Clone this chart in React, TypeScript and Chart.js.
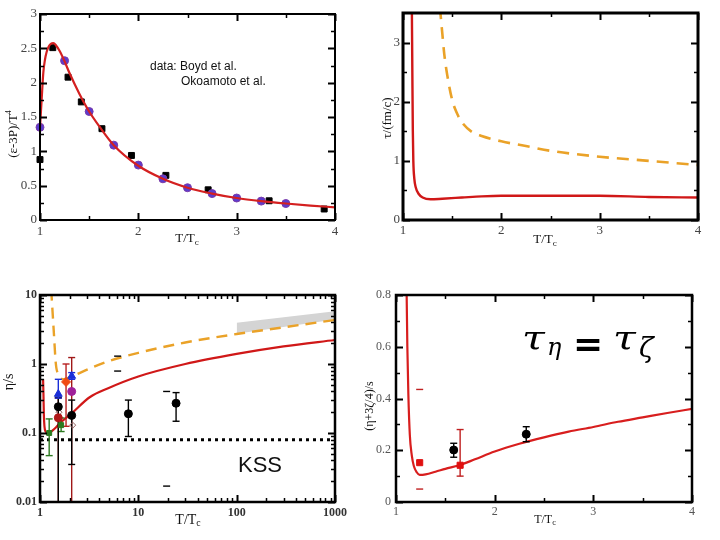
import React, { useEffect, useRef } from "react";
import { Chart, registerables } from "chart.js";
Chart.register(...registerables);

// ================= Panel A: (ε-3P)/T^4 vs T/Tc =================
const aCurveT = [1.0, 1.017, 1.034, 1.05, 1.068, 1.09, 1.11, 1.135, 1.16, 1.2, 1.25, 1.3, 1.4, 1.5, 1.6, 1.75, 2.0, 2.25, 2.5, 2.75, 3.0, 3.25, 3.5, 3.75, 4.0];
const aCurveY = [1.35, 1.76, 2.15, 2.33, 2.45, 2.53, 2.565, 2.575, 2.55, 2.46, 2.31, 2.14, 1.84, 1.58, 1.37, 1.09, 0.79, 0.6, 0.47, 0.385, 0.32, 0.275, 0.24, 0.21, 0.185];
const aSquareT = [1.0, 1.13, 1.285, 1.42, 1.63, 1.93, 2.28, 2.71, 3.33, 3.89];
const aSquareY = [0.88, 2.51, 2.08, 1.72, 1.33, 0.94, 0.65, 0.44, 0.28, 0.16];
const aCircleT = [1.0, 1.25, 1.5, 1.75, 2.0, 2.25, 2.5, 2.75, 3.0, 3.25, 3.5];
const aCircleY = [1.35, 2.32, 1.58, 1.09, 0.8, 0.6, 0.47, 0.385, 0.32, 0.275, 0.24];
const aXTicks = [1, 2, 3, 4];
const aXMinor = [1.5, 2.5, 3.5];
const aYTicks = [0, 0.5, 1, 1.5, 2, 2.5, 3];
const aYMinor = [0.25, 0.75, 1.25, 1.75, 2.25, 2.75];

// ================= Panel B: τ/(fm/c) vs T/Tc =================
const bRedT = [1.09, 1.095, 1.1, 1.105, 1.115, 1.13, 1.16, 1.2, 1.28, 1.4, 1.6, 1.8, 2.0, 2.5, 3.0, 3.5, 4.0];
const bRedY = [3.6, 2.5, 1.5, 1.0, 0.7, 0.55, 0.44, 0.38, 0.35, 0.36, 0.38, 0.4, 0.41, 0.41, 0.41, 0.39, 0.38];
const bOrangeT = [1.375, 1.4, 1.42, 1.45, 1.5, 1.55, 1.6, 1.7, 1.8, 2.0, 2.25, 2.5, 3.0, 3.5, 4.0];
const bOrangeY = [3.6, 3.15, 2.8, 2.45, 2.03, 1.8, 1.65, 1.49, 1.42, 1.33, 1.25, 1.17, 1.07, 1.0, 0.93];
const bXTicks = [1, 2, 3, 4];
const bXMinor = [1.5, 2.5, 3.5];
const bYTicks = [0, 1, 2, 3];
const bYMinor = [0.5, 1.5, 2.5];

// ================= Panel C: η/s vs T/Tc (log-log) =================
const cOrangeT = [1.3, 1.38, 1.45, 1.55, 1.73, 2.2, 3.2, 5, 10, 30, 100, 300, 1000];
const cOrangeY = [12, 3, 1.0, 0.7, 0.6, 0.68, 0.86, 1.1, 1.45, 2.05, 2.72, 3.4, 4.35];
const cRedT = [1.075, 1.085, 1.095, 1.11, 1.14, 1.2, 1.3, 1.45, 1.6, 2.1, 3.2, 5, 10, 30, 100, 300, 1000];
const cRedY = [0.6, 0.35, 0.18, 0.125, 0.105, 0.1, 0.105, 0.12, 0.14, 0.193, 0.33, 0.45, 0.66, 1.0, 1.4, 1.8, 2.23];
const cKssT = [1, 1000];
const cKssY = [0.0796, 0.0796];
const cBandT = [100, 1000];
const cBandLo = [2.75, 4.4];
const cBandHi = [3.95, 5.8];
const cBlackT = [1.535, 2.1, 7.92, 24.2];
const cBlackY = [0.24, 0.18, 0.19, 0.27];
const cBlackLo = [0.01, 0.035, 0.089, 0.148];
const cBlackHi = [0.33, 0.3, 0.3, 0.385];
const cDarkRedT = [1.535];
const cDarkRedY = [0.166];
const cDarkRedLo = [0.01];
const cDarkRedHi = [0.32];
const cTallBarT = [2.1];
const cTallBarLo = [0.01];
const cTallBarHi = [1.24];
const cOrangePtT = [1.84];
const cOrangePtY = [0.55];
const cOrangePtLo = [0.125];
const cOrangePtHi = [1.0];
const cBlueT = [1.535, 2.1];
const cBlueY = [0.367, 0.67];
const cBlueLo = [0.32, 0.6];
const cBlueHi = [0.6, 0.75];
const cPurpleT = [2.1];
const cPurpleY = [0.4];
const cGreenT = [1.24, 1.64];
const cGreenY = [0.1, 0.13];
const cGreenLo = [0.047, 0.105];
const cGreenHi = [0.16, 0.165];
const cOpenT = [1.56, 2.15];
const cOpenY = [0.2, 0.13];
const cCapT = [6.16, 6.16, 19.4, 19.4];
const cCapY = [1.3, 0.79, 0.4, 0.017];
const cXTicks = [1, 10, 100, 1000];
const cYTicks = [0.01, 0.1, 1, 10];
const cXMinor = [2, 3, 4, 5, 6, 7, 8, 9, 20, 30, 40, 50, 60, 70, 80, 90, 200, 300, 400, 500, 600, 700, 800, 900];
const cYMinor = [0.02, 0.03, 0.04, 0.05, 0.06, 0.07, 0.08, 0.09, 0.2, 0.3, 0.4, 0.5, 0.6, 0.7, 0.8, 0.9, 2, 3, 4, 5, 6, 7, 8, 9];

// ================= Panel D: (η+3ζ/4)/s vs T/Tc =================
const dCurveT = [1.105, 1.108, 1.115, 1.125, 1.14, 1.16, 1.18, 1.21, 1.24, 1.3, 1.4, 1.5, 1.65, 1.8, 2.0, 2.25, 2.5, 2.75, 3.0, 3.25, 3.5, 3.75, 4.0];
const dCurveY = [0.85, 0.8, 0.6, 0.42, 0.26, 0.18, 0.14, 0.115, 0.105, 0.107, 0.117, 0.128, 0.143, 0.165, 0.195, 0.225, 0.25, 0.272, 0.29, 0.31, 0.327, 0.344, 0.36];
const dSquareT = [1.24, 1.65];
const dSquareY = [0.152, 0.142];
const dRedBarT = [1.65];
const dRedBarLo = [0.1];
const dRedBarHi = [0.28];
const dRedCapT = [1.24, 1.24];
const dRedCapY = [0.435, 0.05];
const dBlackT = [1.585, 2.32];
const dBlackY = [0.201, 0.262];
const dBlackLo = [0.173, 0.233];
const dBlackHi = [0.227, 0.291];
const dXTicks = [1, 2, 3, 4];
const dXMinor = [1.5, 2.5, 3.5];
const dYTicks = [0, 0.2, 0.4, 0.6, 0.8];
const dYMinor = [0.1, 0.3, 0.5, 0.7];

// ================= helpers =================
const SERIF = '"Liberation Serif", "DejaVu Serif", serif';
const SANS = '"Liberation Sans", Arial, sans-serif';
const MATH = '"DejaVu Serif", serif';

type Part = { t: string; size: number; dy?: number; family?: string; style?: string; weight?: string };
type Txt = { parts: Part[]; x: number; y: number; rot?: number; sx?: number; align?: "left" | "center"; baseline?: CanvasTextBaseline; color?: string };
type Axis = { type: "linear" | "logarithmic"; min: number; max: number; ticks: number[]; minor: number[] };
type Panel = {
  left: number; top: number;
  area: { l: number; t: number; r: number; b: number };
  x: Axis; y: Axis; datasets: any[]; texts: Txt[]; frame: number;
  tickFont: any; tickColor: string; padX: number; padY: number;
};

const fontOf = (p: Part) => `${p.style || "normal"} ${p.weight || "normal"} ${p.size}px ${p.family || SERIF}`;

function drawTxt(ctx: CanvasRenderingContext2D, txt: Txt) {
  ctx.save();
  ctx.translate(txt.x, txt.y);
  if (txt.rot) ctx.rotate(txt.rot);
  if (txt.sx) ctx.scale(txt.sx, 1);
  ctx.textBaseline = txt.baseline || "middle";
  ctx.textAlign = "left";
  ctx.fillStyle = txt.color || "#111";
  let w = 0;
  const ws = txt.parts.map((p) => {
    ctx.font = fontOf(p);
    const m = ctx.measureText(p.t).width;
    w += m;
    return m;
  });
  let x = txt.align === "left" ? 0 : -w / 2;
  txt.parts.forEach((p, i) => {
    ctx.font = fontOf(p);
    ctx.fillText(p.t, x, p.dy || 0);
    x += ws[i];
  });
  ctx.restore();
}

const pts = (xs: number[], ys: number[]) => xs.map((x, i) => ({ x, y: ys[i] }));
const curve = (xs: number[], ys: number[], color: string, width: number, dash: number[] = []) => ({
  data: pts(xs, ys), showLine: true, borderColor: color, borderWidth: width, borderDash: dash,
  pointRadius: 0, cubicInterpolationMode: "monotone", clip: 0, fill: false,
});
const markers = (xs: number[], ys: number[], style: string, r: number, fillC: string, borderC: string, bw = 1) => ({
  data: pts(xs, ys), showLine: false, pointStyle: style, pointRadius: r,
  pointBackgroundColor: fillC, pointBorderColor: borderC, pointBorderWidth: bw, clip: false,
});
const errBars = (xs: number[], lo: number[], hi: number[], color: string, cap = 3.5) =>
  xs.map((x, i) => ({
    data: [{ x, y: lo[i] }, { x, y: hi[i] }], showLine: true, borderColor: color, borderWidth: 1.4,
    pointStyle: "line", pointRadius: cap, pointBorderColor: color, pointBorderWidth: 1.4, clip: 0,
  }));
const caps = (xs: number[], ys: number[], color: string) => ({
  data: pts(xs, ys), showLine: false, pointStyle: "line", pointRadius: 3.5,
  pointBorderColor: color, pointBorderWidth: 1.4, clip: false,
});

const subT = (x: number, y: number, size: number): Txt => ({
  parts: [{ t: "T/T", size }, { t: "c", size: size * 0.7, dy: size * 0.25 }], x, y,
});

// ================= panels =================
const panels: Panel[] = [
  {
    left: 0, top: 0, area: { l: 40, t: 14, r: 335, b: 220 }, frame: 2,
    x: { type: "linear", min: 1, max: 4, ticks: aXTicks, minor: aXMinor },
    y: { type: "linear", min: 0, max: 3, ticks: aYTicks, minor: aYMinor },
    tickFont: { family: SERIF, size: 13 }, tickColor: "#444", padX: 4, padY: 3,
    datasets: [
      curve(aCurveT, aCurveY, "#d42020", 2.2),
      markers(aCircleT, aCircleY, "circle", 4, "#5a3ccf", "#7b3aa8", 1),
      markers(aSquareT, aSquareY, "rect", 4.2, "#000", "#000", 1),
    ],
    texts: [
      { parts: [{ t: "(ε-3P)/T", size: 13 }, { t: "4", size: 8, dy: -5 }], x: 14, y: 134, rot: -Math.PI / 2 },
      subT(187, 239, 13),
      { parts: [{ t: "data: Boyd et al.", size: 12, family: SANS }], x: 150, y: 67, align: "left" },
      { parts: [{ t: "Okoamoto et al.", size: 12, family: SANS }], x: 181, y: 82, align: "left" },
    ],
  },
  {
    left: 360, top: 0, area: { l: 43, t: 13, r: 338, b: 220 }, frame: 3,
    x: { type: "linear", min: 1, max: 4, ticks: bXTicks, minor: bXMinor },
    y: { type: "linear", min: 0, max: 3.5, ticks: bYTicks, minor: bYMinor },
    tickFont: { family: SERIF, size: 13 }, tickColor: "#444", padX: 3, padY: 3,
    datasets: [
      curve(bRedT, bRedY, "#d01818", 2.4),
      curve(bOrangeT, bOrangeY, "#eaa228", 2.6, [12, 8]),
    ],
    texts: [
      { parts: [{ t: "τ/(fm/c)", size: 13 }], x: 28, y: 118, rot: -Math.PI / 2 },
      subT(185, 240, 13),
    ],
  },
  {
    left: 0, top: 270, area: { l: 40, t: 25, r: 335, b: 232 }, frame: 2.5,
    x: { type: "logarithmic", min: 1, max: 1000, ticks: cXTicks, minor: cXMinor },
    y: { type: "logarithmic", min: 0.01, max: 10, ticks: cYTicks, minor: cYMinor },
    tickFont: { family: SERIF, size: 12, weight: "bold" }, tickColor: "#333", padX: 4, padY: 3,
    datasets: [
      markers(cBlueT, cBlueY, "triangle", 4.5, "#1a2ed8", "#1a2ed8"),
      markers(cPurpleT, cPurpleY, "circle", 4, "#a0209a", "#a0209a"),
      markers(cOrangePtT, cOrangePtY, "rectRot", 4.5, "#f04a12", "#f04a12"),
      markers(cBlackT, cBlackY, "circle", 4, "#000", "#000"),
      markers(cDarkRedT, cDarkRedY, "circle", 4, "#b01818", "#b01818"),
      markers(cGreenT, cGreenY, "rect", 3.5, "#2c7a20", "#2c7a20"),
      markers(cOpenT, cOpenY, "rectRot", 3, "rgba(0,0,0,0)", "#906060"),
      caps(cCapT, cCapY, "#000"),
      ...errBars(cBlueT, cBlueLo, cBlueHi, "#1a2ed8"),
      ...errBars(cOrangePtT, cOrangePtLo, cOrangePtHi, "#b82020"),
      ...errBars(cBlackT, cBlackLo, cBlackHi, "#000"),
      ...errBars(cDarkRedT, cDarkRedLo, cDarkRedHi, "#a01818"),
      ...errBars(cTallBarT, cTallBarLo, cTallBarHi, "#a01818"),
      ...errBars(cGreenT, cGreenLo, cGreenHi, "#2c7a20"),
      curve(cRedT, cRedY, "#d01818", 2.2),
      curve(cOrangeT, cOrangeY, "#eaa228", 2.4, [11, 7]),
      { ...curve(cKssT, cKssY, "#000", 3, [3, 4]), cubicInterpolationMode: "default", borderCapStyle: "butt" },
      { data: pts(cBandT, cBandHi), showLine: true, borderWidth: 0, borderColor: "rgba(0,0,0,0)", pointRadius: 0, fill: "+1", backgroundColor: "#d4d4d4", clip: 0 },
      { data: pts(cBandT, cBandLo), showLine: true, borderWidth: 0, borderColor: "rgba(0,0,0,0)", pointRadius: 0, fill: false, clip: 0 },
    ],
    texts: [
      { parts: [{ t: "η/s", size: 14 }], x: 9, y: 112, rot: -Math.PI / 2 },
      subT(188, 250, 14),
      { parts: [{ t: "KSS", size: 22, family: SANS }], x: 238, y: 196, align: "left" },
    ],
  },
  {
    left: 360, top: 270, area: { l: 36, t: 25, r: 332, b: 232 }, frame: 2.5,
    x: { type: "linear", min: 1, max: 4, ticks: dXTicks, minor: dXMinor },
    y: { type: "linear", min: 0, max: 0.8, ticks: dYTicks, minor: dYMinor },
    tickFont: { family: SERIF, size: 12 }, tickColor: "#555", padX: 3, padY: 5,
    datasets: [
      markers(dSquareT, dSquareY, "rect", 4.3, "#e01010", "#e01010"),
      markers(dBlackT, dBlackY, "circle", 4, "#000", "#000"),
      caps(dRedCapT, dRedCapY, "#c02020"),
      ...errBars(dRedBarT, dRedBarLo, dRedBarHi, "#c02020"),
      ...errBars(dBlackT, dBlackLo, dBlackHi, "#000"),
      curve(dCurveT, dCurveY, "#d81e1e", 2.2),
    ],
    texts: [
      { parts: [{ t: "(η+3ζ/4)/s", size: 12 }], x: 10, y: 136, rot: -Math.PI / 2 },
      subT(185, 250, 12),
      { parts: [{ t: "τ", size: 33, style: "italic", family: MATH }], x: 162, y: 80, sx: 1.25, align: "left", baseline: "alphabetic", color: "#000" },
      { parts: [{ t: "η", size: 24, style: "italic", family: MATH }], x: 187, y: 85, align: "left", baseline: "alphabetic", color: "#000" },
      { parts: [{ t: "=", size: 36, weight: "bold", family: '"DejaVu Sans", sans-serif' }], x: 213, y: 86, align: "left", baseline: "alphabetic", color: "#000" },
      { parts: [{ t: "τ", size: 33, style: "italic", family: MATH }], x: 253, y: 80, sx: 1.25, align: "left", baseline: "alphabetic", color: "#000" },
      { parts: [{ t: "ζ", size: 27, style: "italic", family: MATH }], x: 279, y: 87, align: "left", baseline: "alphabetic", color: "#000" },
    ],
  },
];

function PanelChart({ p }: { p: Panel }) {
  const ref = useRef<HTMLCanvasElement>(null);
  useEffect(() => {
    const canvas = ref.current!;
    const decor = {
      id: "decor",
      afterDraw(chart: any) {
        const ctx: CanvasRenderingContext2D = chart.ctx;
        const a = chart.chartArea;
        const xs = chart.scales.x;
        const ys = chart.scales.y;
        ctx.save();
        ctx.strokeStyle = "#000";
        const tickX = (vals: number[], len: number, lw: number) => {
          ctx.lineWidth = lw;
          ctx.beginPath();
          vals.forEach((v) => {
            const px = Math.round(xs.getPixelForValue(v)) + 0.5;
            ctx.moveTo(px, a.bottom); ctx.lineTo(px, a.bottom - len);
            ctx.moveTo(px, a.top); ctx.lineTo(px, a.top + len);
          });
          ctx.stroke();
        };
        const tickY = (vals: number[], len: number, lw: number) => {
          ctx.lineWidth = lw;
          ctx.beginPath();
          vals.forEach((v) => {
            const py = Math.round(ys.getPixelForValue(v)) + 0.5;
            ctx.moveTo(a.left, py); ctx.lineTo(a.left + len, py);
            ctx.moveTo(a.right, py); ctx.lineTo(a.right - len, py);
          });
          ctx.stroke();
        };
        tickX(p.x.ticks, 7, 2);
        tickX(p.x.minor, 4, 1.5);
        tickY(p.y.ticks, 7, 2);
        tickY(p.y.minor, 4, 1.5);
        ctx.lineWidth = p.frame;
        ctx.strokeRect(a.left, a.top, a.right - a.left, a.bottom - a.top);
        ctx.restore();
        p.texts.forEach((t) => drawTxt(ctx, t));
      },
    };
    const mkScale = (ax: Axis, pos: string, fit: (s: any) => void, pad: number) => ({
      type: ax.type, position: pos, min: ax.min, max: ax.max,
      afterBuildTicks: (s: any) => { s.ticks = ax.ticks.map((v) => ({ value: v })); },
      afterFit: fit,
      grid: { display: false, drawTicks: false },
      border: { display: false },
      ticks: {
        autoSkip: false, maxRotation: 0, minRotation: 0, padding: pad,
        font: p.tickFont, color: p.tickColor,
        callback: (v: any) => String(v),
      },
    });
    const chart = new Chart(canvas, {
      type: "scatter",
      data: { datasets: p.datasets },
      options: {
        animation: false,
        responsive: false,
        maintainAspectRatio: false,
        devicePixelRatio: 1,
        layout: { padding: { left: 0, top: p.area.t, right: 360 - p.area.r, bottom: 0 } },
        plugins: { legend: { display: false }, tooltip: { enabled: false } },
        events: [],
        scales: {
          x: mkScale(p.x, "bottom", (s: any) => { s.height = 270 - p.area.b; }, p.padX),
          y: mkScale(p.y, "left", (s: any) => { s.width = p.area.l; }, p.padY),
        },
      } as any,
      plugins: [decor],
    } as any);
    return () => chart.destroy();
  }, []);
  return (
    <canvas
      ref={ref}
      width={360}
      height={270}
      style={{ position: "absolute", left: p.left, top: p.top, width: 360, height: 270 }}
    />
  );
}

export default function App() {
  return (
    <div style={{ position: "fixed", left: 0, top: 0, width: 720, height: 540, background: "#fff", overflow: "hidden" }}>
      {panels.map((p, i) => (
        <PanelChart key={i} p={p} />
      ))}
    </div>
  );
}
